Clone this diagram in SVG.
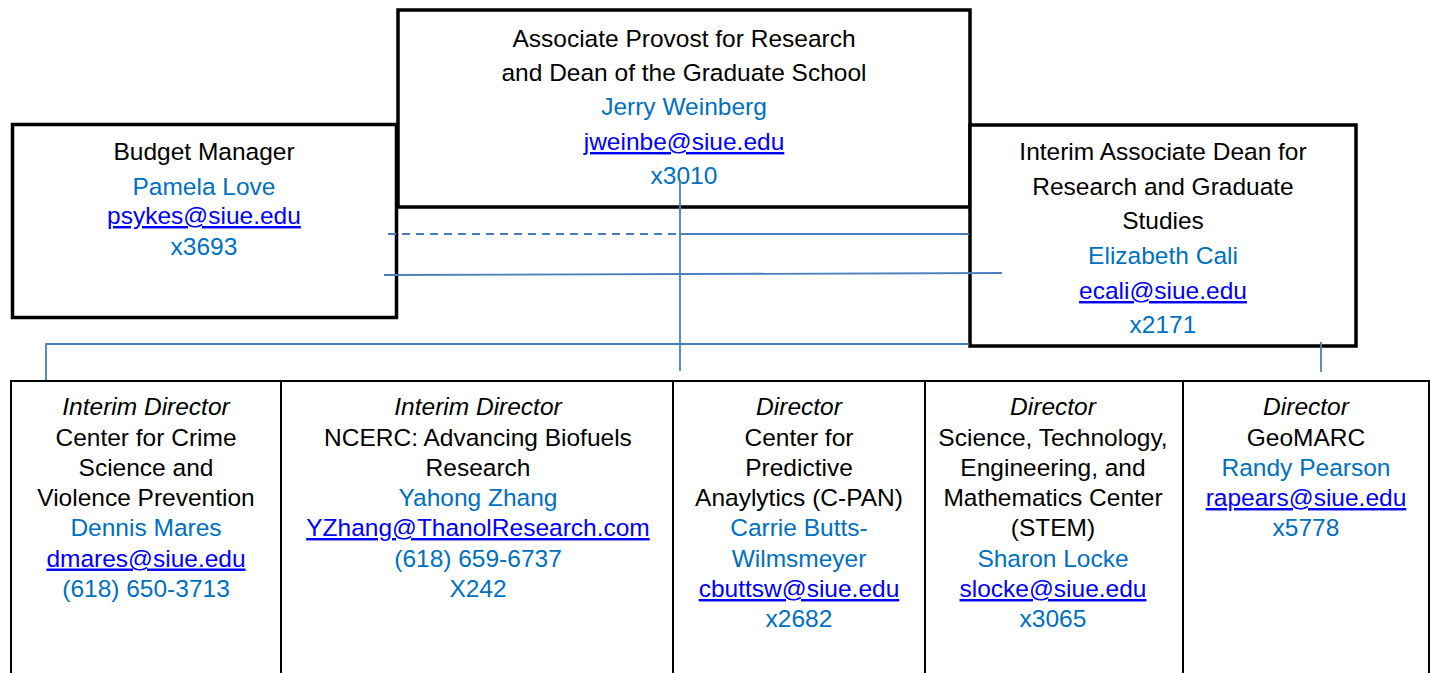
<svg xmlns="http://www.w3.org/2000/svg" width="1436" height="673" viewBox="0 0 1436 673">
<style>
text{font-family:"Liberation Sans",Arial,sans-serif;font-size:24.5px;text-anchor:middle;fill:#000}
.b{fill:#0070C0}
.l{fill:#0000FF;text-decoration:underline}
.i{font-style:italic}
.box{fill:#fff;stroke:#000;stroke-width:3.5}
.cell{fill:#fff;stroke:#000;stroke-width:2}
.c{fill:none;stroke:#4A7EBB;stroke-width:1.8}
</style>
<rect width="1436" height="673" fill="#fff"/>
<g id="cells">
<g id="cell-crime"><rect class="cell" x="11" y="381" width="270" height="310"/>
<text class="i" x="146" y="415">Interim Director</text>
<text x="146" y="445.5">Center for Crime</text>
<text x="146" y="475.5">Science and</text>
<text x="146" y="506">Violence Prevention</text>
<text class="b" x="146" y="536">Dennis Mares</text>
<text class="l" x="146" y="566.5">dmares@siue.edu</text>
<text class="b" x="146" y="597">(618) 650-3713</text></g>
<g id="cell-ncerc"><rect class="cell" x="281" y="381" width="392" height="310"/>
<text class="i" x="478" y="415">Interim Director</text>
<text x="478" y="445.5">NCERC: Advancing Biofuels</text>
<text x="478" y="475.5">Research</text>
<text class="b" x="478" y="506">Yahong Zhang</text>
<text class="l" x="478" y="536">YZhang@ThanolResearch.com</text>
<text class="b" x="478" y="566.5">(618) 659-6737</text>
<text class="b" x="478" y="597">X242</text></g>
<g id="cell-cpan"><rect class="cell" x="673" y="381" width="252" height="310"/>
<text class="i" x="799" y="415">Director</text>
<text x="799" y="445.5">Center for</text>
<text x="799" y="475.5">Predictive</text>
<text x="799" y="506">Anaylytics (C-PAN)</text>
<text class="b" x="799" y="536">Carrie Butts-</text>
<text class="b" x="799" y="566.5">Wilmsmeyer</text>
<text class="l" x="799" y="597">cbuttsw@siue.edu</text>
<text class="b" x="799" y="627">x2682</text></g>
<g id="cell-stem"><rect class="cell" x="925" y="381" width="258" height="310"/>
<text class="i" x="1053" y="415">Director</text>
<text x="1053" y="445.5">Science, Technology,</text>
<text x="1053" y="475.5">Engineering, and</text>
<text x="1053" y="506">Mathematics Center</text>
<text x="1053" y="536">(STEM)</text>
<text class="b" x="1053" y="566.5">Sharon Locke</text>
<text class="l" x="1053" y="597">slocke@siue.edu</text>
<text class="b" x="1053" y="627">x3065</text></g>
<g id="cell-geomarc"><rect class="cell" x="1183" y="381" width="246" height="310"/>
<text class="i" x="1306" y="415">Director</text>
<text x="1306" y="445.5">GeoMARC</text>
<text class="b" x="1306" y="475.5">Randy Pearson</text>
<text class="l" x="1306" y="506">rapears@siue.edu</text>
<text class="b" x="1306" y="536">x5778</text></g>
</g>
<g id="budget"><rect class="box" x="12.5" y="124.5" width="384" height="193"/>
<text x="204" y="160">Budget Manager</text>
<text class="b" x="204" y="195">Pamela Love</text>
<text class="l" x="204" y="224">psykes@siue.edu</text>
<text class="b" x="204" y="255">x3693</text></g>
<g id="provost"><rect class="box" x="398" y="10" width="572" height="197"/>
<text x="684" y="46.5">Associate Provost for Research</text>
<text x="684" y="81">and Dean of the Graduate School</text>
<text class="b" x="684" y="115">Jerry Weinberg</text>
<text class="l" x="684" y="150">jweinbe@siue.edu</text>
<text class="b" x="684" y="184">x3010</text></g>
<g id="assocdean"><rect class="box" x="970" y="125" width="386" height="221"/>
<text x="1163" y="160">Interim Associate Dean for</text>
<text x="1163" y="195">Research and Graduate</text>
<text x="1163" y="229">Studies</text>
<text class="b" x="1163" y="264">Elizabeth Cali</text>
<text class="l" x="1163" y="299">ecali@siue.edu</text>
<text class="b" x="1163" y="333">x2171</text></g>
<g id="connectors">
<line class="c" x1="388" y1="234" x2="680" y2="234" stroke-dasharray="8,6"/>
<line class="c" x1="680" y1="234" x2="969" y2="234"/>
<line class="c" x1="384" y1="275" x2="1002" y2="273"/>
<line class="c" x1="680" y1="180" x2="680" y2="371"/>
<polyline class="c" points="46,380 46,344 969,344"/>
<line class="c" x1="1321" y1="342" x2="1321" y2="372"/>
</g>
</svg>
